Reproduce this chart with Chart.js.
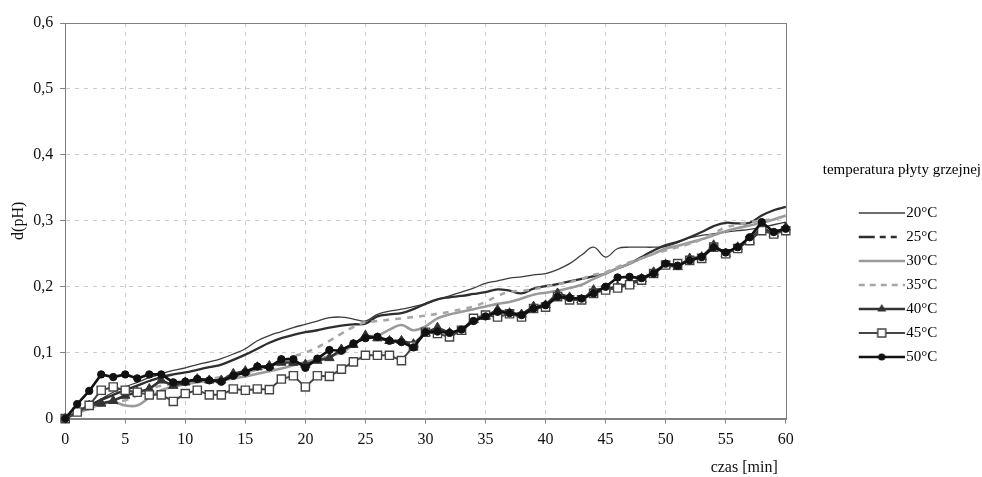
<!DOCTYPE html>
<html>
<head>
<meta charset="utf-8">
<title>d(pH) - czas</title>
<script src="https://cdn.jsdelivr.net/npm/chart.js@4.4.1/dist/chart.umd.min.js"></script>
<style>
  html, body { margin: 0; padding: 0; background: #fff; }
</style>
</head>
<body>
<canvas id="myChart" width="982" height="477"></canvas>
<script>
// czas [min]
const minutes = [
  0, 1, 2, 3, 4, 5, 6, 7, 8, 9, 10, 11, 12, 13, 14, 15, 16, 17, 18, 19, 20,
  21, 22, 23, 24, 25, 26, 27, 28, 29, 30, 31, 32, 33, 34, 35, 36, 37, 38, 39, 40,
  41, 42, 43, 44, 45, 46, 47, 48, 49, 50, 51, 52, 53, 54, 55, 56, 57, 58, 59, 60,
];

const temp_labels = ["20°C", "25°C", "30°C", "35°C", "40°C", "45°C", "50°C"];

const d_ph_20 = [
  0, 0.01, 0.02, 0.03, 0.04, 0.048, 0.055, 0.062, 0.068, 0.073, 0.077,
  0.082, 0.086, 0.091, 0.098, 0.106, 0.118, 0.126, 0.132, 0.138, 0.143,
  0.148, 0.153, 0.154, 0.151, 0.148, 0.158, 0.163, 0.166, 0.17, 0.174,
  0.18, 0.186, 0.192, 0.198, 0.205, 0.209, 0.213, 0.215, 0.218, 0.22,
  0.226, 0.235, 0.248, 0.26, 0.245, 0.258, 0.26, 0.26, 0.26, 0.261,
  0.267, 0.274, 0.278, 0.28, 0.283, 0.285, 0.287, 0.29, 0.294, 0.298,
];
const d_ph_25 = [
  0, 0.01, 0.02, 0.028, 0.036, 0.043, 0.05, 0.057, 0.063, 0.067, 0.07,
  0.074, 0.078, 0.082, 0.089, 0.097, 0.106, 0.115, 0.122, 0.127, 0.131,
  0.134, 0.138, 0.141, 0.143, 0.144, 0.155, 0.158, 0.16, 0.166, 0.174,
  0.181, 0.184, 0.186, 0.189, 0.192, 0.196, 0.194, 0.19, 0.197, 0.201,
  0.204, 0.208, 0.212, 0.216, 0.22, 0.228, 0.235, 0.245, 0.255, 0.263,
  0.268, 0.275, 0.283, 0.292, 0.297, 0.296, 0.297, 0.308, 0.316, 0.321,
];
const d_ph_30 = [
  0, 0.008, 0.015, 0.022, 0.025, 0.02, 0.02, 0.032, 0.043, 0.048, 0.052,
  0.055, 0.057, 0.058, 0.061, 0.064, 0.068, 0.072, 0.076, 0.081, 0.086,
  0.09, 0.095, 0.1, 0.112, 0.124, 0.126, 0.135, 0.142, 0.134, 0.14,
  0.152, 0.158, 0.162, 0.166, 0.17, 0.174, 0.177, 0.182, 0.188, 0.191,
  0.194, 0.198, 0.203, 0.212, 0.22, 0.228, 0.235, 0.243, 0.25, 0.258,
  0.262, 0.267, 0.272, 0.278, 0.284, 0.289, 0.293, 0.297, 0.302, 0.308,
];
const d_ph_35 = [
  0, 0.008, 0.015, 0.02, 0.025, 0.028, 0.035, 0.045, 0.05, 0.052, 0.055,
  0.058, 0.06, 0.063, 0.066, 0.07, 0.074, 0.08, 0.087, 0.094, 0.1,
  0.108, 0.118, 0.129, 0.139, 0.146, 0.148, 0.15, 0.152, 0.154, 0.156,
  0.159, 0.162, 0.166, 0.17, 0.177, 0.186, 0.192, 0.194, 0.196, 0.2,
  0.204, 0.207, 0.212, 0.218, 0.222, 0.23, 0.237, 0.243, 0.25, 0.255,
  0.26, 0.265, 0.272, 0.281, 0.29, 0.294, 0.298, 0.3, 0.303, 0.306,
];
const d_ph_40 = [
  0, 0.01, 0.02, 0.023, 0.027, 0.035, 0.04, 0.045, 0.058, 0.05, 0.055,
  0.06, 0.058, 0.058, 0.068, 0.072, 0.078, 0.08, 0.085, 0.085, 0.082,
  0.088, 0.092, 0.105, 0.112, 0.126, 0.122, 0.118, 0.118, 0.113, 0.13,
  0.138, 0.13, 0.132, 0.15, 0.155, 0.165, 0.16, 0.158, 0.17, 0.172,
  0.19, 0.184, 0.18, 0.195, 0.197, 0.2, 0.205, 0.212, 0.222, 0.233,
  0.23, 0.243, 0.245, 0.263, 0.25, 0.26, 0.27, 0.29, 0.28, 0.29,
];
const d_ph_45 = [
  0, 0.01, 0.02, 0.043, 0.048, 0.043, 0.04, 0.036, 0.036, 0.026, 0.038,
  0.043, 0.036, 0.036, 0.045, 0.043, 0.045, 0.044, 0.06, 0.065, 0.048,
  0.065, 0.064, 0.075, 0.086, 0.096, 0.096, 0.096, 0.088, 0.11, 0.131,
  0.129, 0.124, 0.134, 0.152, 0.157, 0.154, 0.159, 0.154, 0.167, 0.169,
  0.185, 0.18, 0.18, 0.19, 0.195, 0.198, 0.203, 0.21, 0.22, 0.233,
  0.235, 0.24, 0.243, 0.26, 0.25, 0.258, 0.27, 0.285, 0.28, 0.285,
];
const d_ph_50 = [
  0, 0.022, 0.042, 0.067, 0.063, 0.067, 0.061, 0.067, 0.067, 0.055, 0.056,
  0.06, 0.058, 0.056, 0.065, 0.07, 0.079, 0.078, 0.09, 0.09, 0.077,
  0.091, 0.104, 0.103, 0.114, 0.122, 0.124, 0.118, 0.116, 0.108, 0.131,
  0.132, 0.13, 0.135, 0.148, 0.155, 0.162, 0.16, 0.157, 0.167, 0.172,
  0.185, 0.183, 0.182, 0.19, 0.2, 0.214, 0.215, 0.213, 0.22, 0.235,
  0.232, 0.24, 0.245, 0.26, 0.252, 0.26, 0.275, 0.298, 0.283, 0.288,
];

const y_tick_labels = ["0", "0,1", "0,2", "0,3", "0,4", "0,5", "0,6"];

const series = [d_ph_20, d_ph_25, d_ph_30, d_ph_35, d_ph_40, d_ph_45, d_ph_50];

// look of each series (Excel-ish greys)
const looks = [
  { color: "#3c3c3c", width: 1.3, smooth: true },
  { color: "#2e2e2e", width: 2.3, smooth: true, legendDash: [16, 5, 6, 5, 6, 20] },
  { color: "#9a9a9a", width: 2.6, smooth: true },
  { color: "#a6a6a6", width: 2.6, smooth: true, dash: [6, 6], legendDash: [6, 5] },
  { color: "#333333", width: 2.6, marker: "triangle", fill: "#333333", radius: 5.4 },
  { color: "#454545", width: 2.0, marker: "rect", fill: "#ffffff", radius: 5.8 },
  { color: "#111111", width: 2.6, marker: "circle", fill: "#111111", radius: 3.7 },
];

const serif = "'Liberation Serif', 'Times New Roman', serif";

let make_legend_icon = (look) => {
  const c = document.createElement("canvas");
  c.width = 116;
  c.height = 16;
  const g = c.getContext("2d");
  g.strokeStyle = look.color;
  g.lineWidth = look.width;
  g.setLineDash(look.legendDash || look.dash || []);
  g.beginPath();
  g.moveTo(70, 8);
  g.lineTo(116, 8);
  g.stroke();
  g.setLineDash([]);
  const cx = 93, cy = 8;
  g.fillStyle = look.fill;
  g.lineWidth = 1.5;
  if (look.marker === "triangle") {
    g.beginPath();
    g.moveTo(cx, cy - 5);
    g.lineTo(cx + 4.5, cy + 2.6);
    g.lineTo(cx - 4.5, cy + 2.6);
    g.closePath();
    g.fill();
  } else if (look.marker === "rect") {
    g.fillRect(cx - 4, cy - 4, 8, 8);
    g.strokeRect(cx - 4, cy - 4, 8, 8);
  } else if (look.marker === "circle") {
    g.beginPath();
    g.arc(cx, cy, 3.6, 0, Math.PI * 2);
    g.fill();
  }
  return c;
};

const legend_icons = looks.map(make_legend_icon);

const datasets = series.map((values, i) => {
  const look = looks[i];
  return {
    label: temp_labels[i],
    data: minutes.map((t, k) => ({ x: t, y: values[k] })),
    borderColor: look.color,
    backgroundColor: look.fill || look.color,
    borderWidth: look.width,
    borderDash: look.dash || [],
    tension: look.smooth ? 0.4 : 0,
    pointStyle: look.marker || false,
    pointRadius: look.marker ? look.radius : 0,
    pointBackgroundColor: look.fill || look.color,
    pointBorderColor: look.color,
    pointBorderWidth: look.marker === "rect" ? 1.4 : 1,
    order: series.length - i,
    clip: 8,
  };
});

// solid frame around the plot (top and right side)
const frame = {
  id: "frame",
  beforeDatasetsDraw(chart) {
    const { ctx, chartArea: a } = chart;
    ctx.save();
    ctx.strokeStyle = "#808080";
    ctx.lineWidth = 1;
    ctx.strokeRect(Math.round(a.left) + 0.5, Math.round(a.top) + 0.5,
      Math.round(a.right - a.left), Math.round(a.bottom - a.top));
    ctx.restore();
  },
};

let edge_transparent = (max) => (c) =>
  c.tick && (c.tick.value === 0 || Math.abs(c.tick.value - max) < 1e-9)
    ? "rgba(0,0,0,0)"
    : "#cccccc";

const ctx = document.getElementById("myChart").getContext("2d");

const myChart = new Chart(ctx, {
  type: "line",
  data: { datasets: datasets },
  plugins: [frame],
  options: {
    responsive: false,
    animation: false,
    layout: { padding: { top: 23, right: 1, bottom: 0, left: 7 } },
    plugins: {
      tooltip: { enabled: false },
      legend: {
        position: "right",
        align: "start",
        title: {
          display: true,
          text: "temperatura płyty grzejnej",
          position: "end",
          color: "#000",
          font: { family: serif, size: 15 },
          padding: { top: 139.5, bottom: 16 },
        },
        labels: {
          usePointStyle: true,
          pointStyleWidth: 104,
          padding: 9,
          color: "#000",
          font: { family: serif, size: 15 },
          generateLabels: () =>
            temp_labels.map((name, i) => ({
              text: name + "         ",
              pointStyle: legend_icons[i],
              fillStyle: looks[i].color,
              strokeStyle: looks[i].color,
              lineWidth: 0,
              hidden: false,
              datasetIndex: i,
            })),
        },
      },
    },
    scales: {
      x: {
        type: "linear",
        min: 0,
        max: 60,
        ticks: {
          stepSize: 5,
          padding: 7,
          maxRotation: 0,
          color: "#111",
          font: { family: serif, size: 16 },
        },
        grid: {
          color: edge_transparent(60),
          tickColor: "#808080",
          tickLength: 5,
        },
        border: { color: "#808080", width: 1, dash: [4, 5] },
        title: {
          display: true,
          text: "czas [min]  ",
          align: "end",
          color: "#111",
          font: { family: serif, size: 16 },
          padding: { top: 1, bottom: 0 },
        },
      },
      y: {
        min: 0,
        max: 0.6,
        ticks: {
          stepSize: 0.1,
          padding: 7,
          color: "#111",
          font: { family: serif, size: 16 },
          callback: (v) => y_tick_labels[Math.round(v * 10)],
        },
        grid: {
          color: edge_transparent(0.6),
          tickColor: "#808080",
          tickLength: 5,
        },
        border: { color: "#808080", width: 1, dash: [4, 5] },
        title: {
          display: true,
          text: "d(pH)",
          color: "#111",
          font: { family: serif, size: 16 },
          padding: { top: 2, bottom: -2 },
        },
      },
    },
  },
});
</script>
</body>
</html>
